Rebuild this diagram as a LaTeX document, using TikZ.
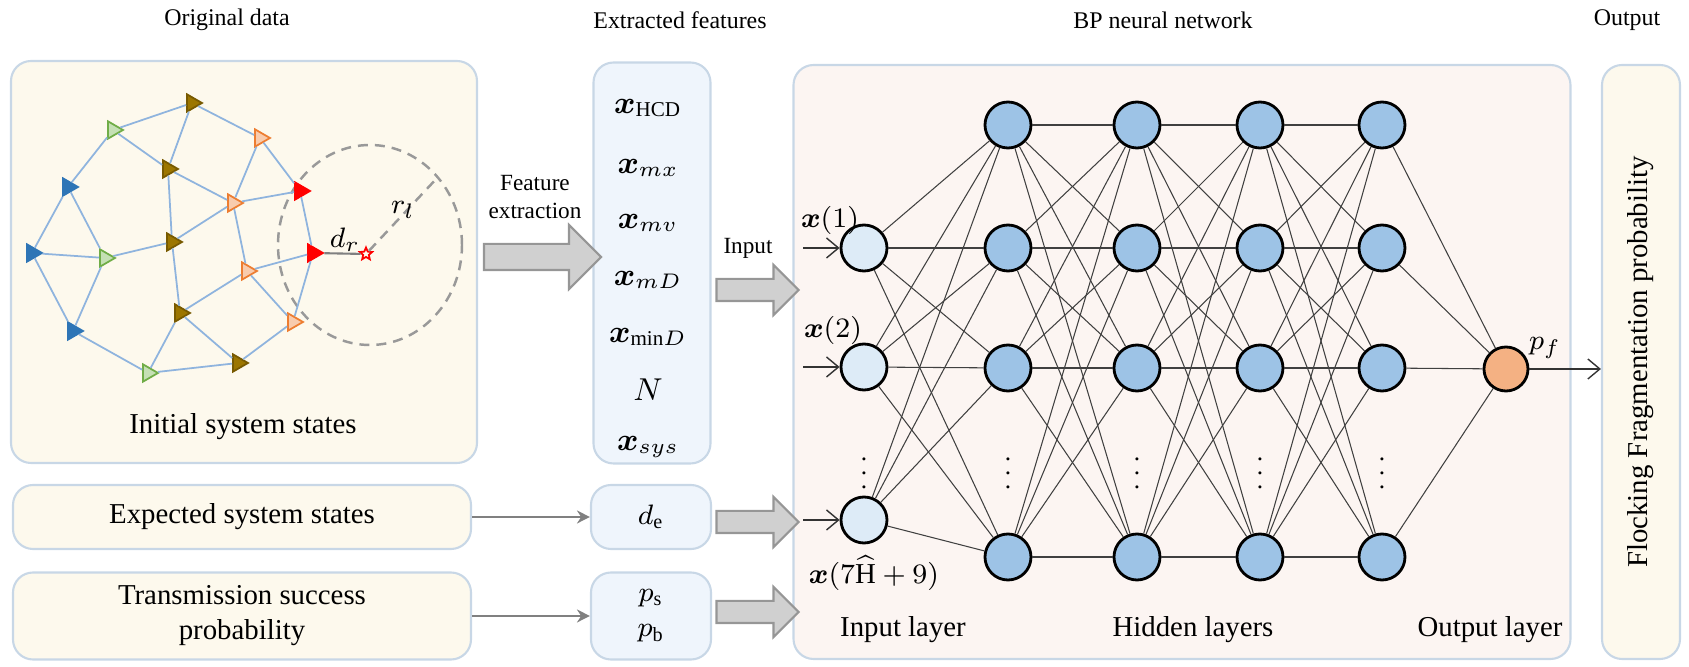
\documentclass[tikz,border=0pt]{standalone}
\usepackage{fontspec}
\setmainfont{Liberation Serif}
\usepackage{amsmath,amssymb}
\usetikzlibrary{shapes,arrows.meta,positioning,calc}
\definecolor{creamfill}{RGB}{253,249,237}
\definecolor{bluefill}{RGB}{239,245,252}
\definecolor{pinkfill}{RGB}{252,245,242}
\definecolor{paneledge}{RGB}{200,215,230}
\definecolor{arrowfill}{RGB}{208,208,208}
\definecolor{arrowedge}{RGB}{150,150,150}
\definecolor{linkblue}{RGB}{143,180,222}
\definecolor{inblue}{RGB}{221,235,247}
\definecolor{hidblue}{RGB}{157,195,230}
\definecolor{outorange}{RGB}{244,177,131}
\definecolor{agBlue}{RGB}{46,117,182}
\definecolor{agGreen}{RGB}{112,173,71}
\definecolor{agGreenL}{RGB}{197,224,180}
\definecolor{agOlive}{RGB}{156,118,0}
\definecolor{agOliveD}{RGB}{120,90,0}
\definecolor{agOrange}{RGB}{237,125,49}
\definecolor{agOrangeL}{RGB}{248,203,173}

\begin{document}
\begin{tikzpicture}[
    x=0.1mm, y=-0.1mm,
    font=\fontsize{8.2}{10}\selectfont,
    panel/.style={
        rectangle,
        rounded corners=2mm,
        draw=paneledge,
        line width=0.6pt,
        inner sep=0pt
    },
    heading/.style={
        font=\fontsize{6.8}{8}\selectfont
    },
    smalltext/.style={
        font=\fontsize{6.6}{8}\selectfont,
        align=center
    },
    agent/.style={
        isosceles triangle,
        isosceles triangle apex angle=60,
        inner sep=0pt,
        minimum size=1.5mm,
        line width=0.5pt
    },
    link/.style={
        linkblue,
        line width=0.5pt
    },
    ring/.style={
        draw=gray!80,
        dash pattern=on 1mm off 0.7mm,
        line width=0.7pt
    },
    neuron/.style={
        circle,
        draw=black,
        line width=0.8pt,
        minimum size=4.6mm,
        inner sep=0pt
    },
    syn/.style={
        black!75,
        line width=0.3pt
    },
    gap/.style={
        font=\fontsize{7.2}{7.2}\selectfont,
        inner sep=0pt
    },
    blockarrow/.style={
        single arrow,
        draw=arrowedge,
        fill=arrowfill,
        line width=0.6pt,
        inner sep=0pt,
        single arrow tip angle=90
    },
    feed/.style={
        -{Straight Barb[length=1.2mm, width=2mm]},
        black!80,
        line width=0.4pt
    },
    pass/.style={
        -{Stealth[length=1.3mm, width=1.3mm]},
        gray,
        line width=0.5pt
    }
]
\useasboundingbox (0,0) rectangle (1689,667);

% TITLES
\node[heading] (t1) at (227,20) {Original data};
\node[heading] (t2) at (680,20) {Extracted features};
\node[heading] (t3) at (1163,20) {BP neural network};
\node[heading] (t4) at (1627,20) {Output};

% PANELS
\node[panel, fill=creamfill, minimum width=46.6mm, minimum height=40.2mm] (orig) at (244,262) {};
\node[panel, fill=creamfill, minimum width=45.8mm, minimum height=6.4mm] (expd) at (242,517) {Expected system states};
\node[panel, fill=creamfill, minimum width=45.8mm, minimum height=8.7mm, align=center] (trans) at (242,616) {Transmission success\\probability};
\node[panel, fill=bluefill, minimum width=11.7mm, minimum height=40.1mm] (feat) at (652,263) {};
\node[panel, fill=bluefill, minimum width=12mm, minimum height=6.4mm] (de) at (651,517) {$d_{\mathrm{e}}$};
\node[panel, fill=bluefill, minimum width=12mm, minimum height=8.7mm, align=center] (pp) at (651,616) {$p_{\mathrm{s}}$\\$p_{\mathrm{b}}$};
\node[panel, fill=pinkfill, minimum width=77.7mm, minimum height=59.4mm] (bpnn) at (1182,362) {};
\node[panel, fill=creamfill, minimum width=7.8mm, minimum height=59.4mm] (outbox) at (1641,362) {};
\node[rotate=90] (flock) at (outbox) {Flocking Fragmentation probability};

% INITIAL SYSTEM STATES
\node[ellipse, ring, minimum width=18.4mm, minimum height=20mm, inner sep=0pt] (range) at (370,245) {};

\foreach \n/\x/\y in {b1/68/187, b2/32/253, b3/73/331}
    \node[agent, fill=agBlue, draw=agBlue] (\n) at (\x,\y) {};
\foreach \n/\x/\y in {g1/113/130, g2/105/258, g3/148/373}
    \node[agent, fill=agGreenL, draw=agGreen] (\n) at (\x,\y) {};
\foreach \n/\x/\y in {o1/192/103, o2/168/169, o3/172/242, o4/180/313, o5/238/363}
    \node[agent, fill=agOlive, draw=agOliveD] (\n) at (\x,\y) {};
\foreach \n/\x/\y in {p1/260/138, p2/233/203, p3/247/271, p4/293/322}
    \node[agent, fill=agOrangeL, draw=agOrange] (\n) at (\x,\y) {};
\foreach \n/\x/\y in {r1/300/191, r2/313/253}
    \node[agent, fill=red, draw=red] (\n) at (\x,\y) {};

\foreach \a/\b in {g1/o1, o1/p1, g1/o2, o1/o2, g1/b1, b1/b2, b1/g2, b2/g2,
                   b2/b3, g2/b3, g2/o3, o2/o3, o2/p2, p1/p2, p1/r1, p2/r1,
                   o3/p2, p2/p3, r1/r2, p3/r2, r2/p4, p3/o4, p3/p4, o3/o4,
                   o4/g3, o4/o5, b3/g3, g3/o5, o5/p4}
    \draw[link] (\a) -- (\b);

\node[star, star points=5, star point ratio=2.2, draw=red, fill=creamfill,
      minimum size=1.3mm, inner sep=0pt, line width=0.5pt] (tgt) at (366,254) {};
\draw[gray, line width=0.6pt] (r2) -- (tgt);
\draw[ring] (tgt) -- (range.45);
\node (drlabel) at (345,240) {$d_r$};
\node (rllabel) at (403,210) {$r_l$};
\node (initlabel) at (243,427) {Initial system states};

% EXTRACTED FEATURES
\foreach \y/\f [count=\k] in {108/{\boldsymbol{x}_{\mathrm{HCD}}}, 168/{\boldsymbol{x}_{mx}},
        223/{\boldsymbol{x}_{mv}}, 280/{\boldsymbol{x}_{mD}}, 337/{\boldsymbol{x}_{\mathrm{min}D}},
        390/{N}, 447/{\boldsymbol{x}_{sys}}}
    \node[font=\fontsize{9}{11}\selectfont] (f\k) at (648,\y) {$\f$};

\draw[pass] (expd) -- (de);
\draw[pass] (trans) -- (pp);

% BLOCK ARROWS
\node[blockarrow, minimum height=11.7mm, single arrow head extend=1.9mm] (fx) at (536,257) {\rule{0pt}{2.4mm}};
\node[smalltext] (fxlabel) at (535,197) {Feature\\extraction};
\node[blockarrow, minimum height=8.2mm, single arrow head extend=1.4mm] (ia) at (752,290) {\rule{0pt}{2mm}};
\node[smalltext] (ialabel) at (748,248) {Input};
\node[blockarrow, minimum height=8.2mm, single arrow head extend=1.4mm] (da) at (752,522) {\rule{0pt}{2mm}};
\node[blockarrow, minimum height=8.2mm, single arrow head extend=1.4mm] (pa) at (752,612) {\rule{0pt}{2mm}};

% BP NEURAL NETWORK
\foreach \i/\y in {1/248, 2/367, 3/520}
    \node[neuron, fill=inblue] (in\i) at (864,\y) {};
\foreach \l/\x in {1/1008, 2/1137, 3/1260, 4/1382}{
    \foreach \j/\y in {1/125, 2/248, 3/368, 4/557}
        \node[neuron, fill=hidblue] (h\l\j) at (\x,\y) {};
    \node[gap] (dots\l) at (\x,463) {$\vdots$};
}
\node[neuron, fill=outorange, minimum size=4.4mm] (out) at (1506,369) {};
\node[gap] (dots0) at (864,463) {$\vdots$};

\foreach \i in {1,2,3}
    \foreach \j in {1,...,4}
        \draw[syn] (in\i) -- (h1\j);
\foreach \l/\m in {1/2, 2/3, 3/4}
    \foreach \i in {1,...,4}
        \foreach \j in {1,...,4}
            \draw[syn] (h\l\i) -- (h\m\j);
\foreach \j in {1,...,4}
    \draw[syn] (h4\j) -- (out);

\foreach \i/\y in {1/248, 2/367, 3/520}{
    \coordinate (src\i) at (803,\y);
    \draw[feed] (src\i) -- (in\i);
}
\draw[feed] (out) -- (out -| outbox.west);

\node (lx1) at (830,220) {$\boldsymbol{x}(1)$};
\node (lx2) at (833,330) {$\boldsymbol{x}(2)$};
\node (lx3) at (874,573) {$\boldsymbol{x}(7\widehat{\mathrm{H}}+9)$};
\node (pf) at (1545,348) {$p_f$};

\node (inlayer) at (903,630) {Input layer};
\node (hidlayer) at (1193,630) {Hidden layers};
\node (outlayer) at (1490,630) {Output layer};

\end{tikzpicture}
\end{document}
